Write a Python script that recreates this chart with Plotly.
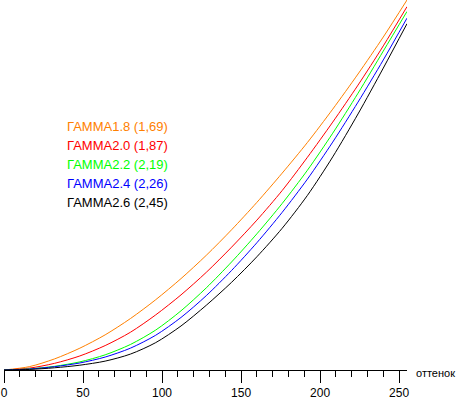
import plotly.graph_objects as go

# tone levels (x) and measured brightness curves (percent of full scale)
tones = [0, 16, 32, 48, 64, 80, 96, 112, 128, 144, 160, 176, 192, 208, 224, 240, 255]

gamma18 = [0, 0.9, 3.0, 5.9, 9.5, 13.9, 19.0, 24.7, 31.0, 37.9, 45.3, 53.2, 61.5, 70.5, 80.0, 90.0, 100.0]
gamma20 = [0, 0.5, 1.8, 3.8, 6.6, 10.2, 14.9, 20.3, 26.4, 33.2, 40.5, 48.5, 57.5, 67.0, 77.0, 87.6, 98.2]
gamma22 = [0, 0.3, 1.0, 2.2, 4.1, 6.9, 10.8, 16.0, 22.2, 29.2, 36.8, 45.0, 54.0, 64.0, 74.8, 86.2, 96.9]
gamma24 = [0, 0.25, 0.9, 1.9, 3.5, 5.9, 9.4, 14.2, 20.1, 26.9, 34.4, 42.6, 51.6, 61.6, 72.4, 83.8, 95.1]
gamma26 = [0, 0.15, 0.6, 1.3, 2.4, 4.3, 7.4, 11.9, 17.5, 23.7, 30.6, 38.3, 47.2, 57.6, 69.2, 81.6, 93.6]

series_names = ["ГАММА1.8 (1,69)", "ГАММА2.0 (1,87)", "ГАММА2.2 (2,19)", "ГАММА2.4 (2,26)", "ГАММА2.6 (2,45)"]
series_colors = ["#FF8000", "#FF0000", "#00FF00", "#0000FF", "#000000"]
series_values = [gamma18, gamma20, gamma22, gamma24, gamma26]

x_title = "оттенок"

W, H = 458, 400
L, R, T, B = 4, 51, 0, 27
plot_w = W - L - R
plot_h = H - T - B

fig = go.Figure()
for name, color, vals in zip(series_names, series_colors, series_values):
    fig.add_trace(go.Scatter(
        x=tones, y=vals, mode="lines", name=name,
        line=dict(color=color, width=1, shape="spline", smoothing=0.8),
        hoverinfo="skip", showlegend=False,
    ))

# coloured text legend
legend_px_x = 65
legend_px_y0 = 128
legend_step = 19
for i, (name, color) in enumerate(zip(series_names, series_colors)):
    py = legend_px_y0 + i * legend_step
    fig.add_annotation(
        xref="paper", yref="paper",
        x=(legend_px_x - L) / plot_w, y=(H - B - py) / plot_h,
        xanchor="left", yanchor="middle", showarrow=False,
        text=name, font=dict(family="Liberation Sans, Arial", size=13, color=color),
    )

fig.add_annotation(
    xref="paper", yref="paper", x=1.0, y=0,
    xshift=7, yshift=-3, xanchor="left", yanchor="middle", showarrow=False,
    text=x_title, font=dict(family="Liberation Sans, Arial", size=11, color="#000000"),
)

fig.update_layout(
    width=W, height=H,
    margin=dict(l=L, r=R, t=T, b=B, pad=0),
    paper_bgcolor="white", plot_bgcolor="white",
    font=dict(family="Liberation Sans, Arial", size=12, color="#000000"),
    xaxis=dict(
        range=[0, 255], showgrid=False, zeroline=False,
        showline=True, linecolor="black", linewidth=1,
        ticks="outside", tickcolor="black", ticklen=12, tickwidth=1,
        tick0=0, dtick=50, tickfont=dict(size=12),
        minor=dict(dtick=10, ticks="outside", ticklen=6, tickcolor="black", showgrid=False),
        fixedrange=True,
    ),
    yaxis=dict(range=[0, 100], visible=False, fixedrange=True),
)

fig.write_html(
    "out.html",
    config={"displayModeBar": False, "staticPlot": True},
    post_script="document.body.style.margin='0';document.body.style.overflow='hidden';",
)
